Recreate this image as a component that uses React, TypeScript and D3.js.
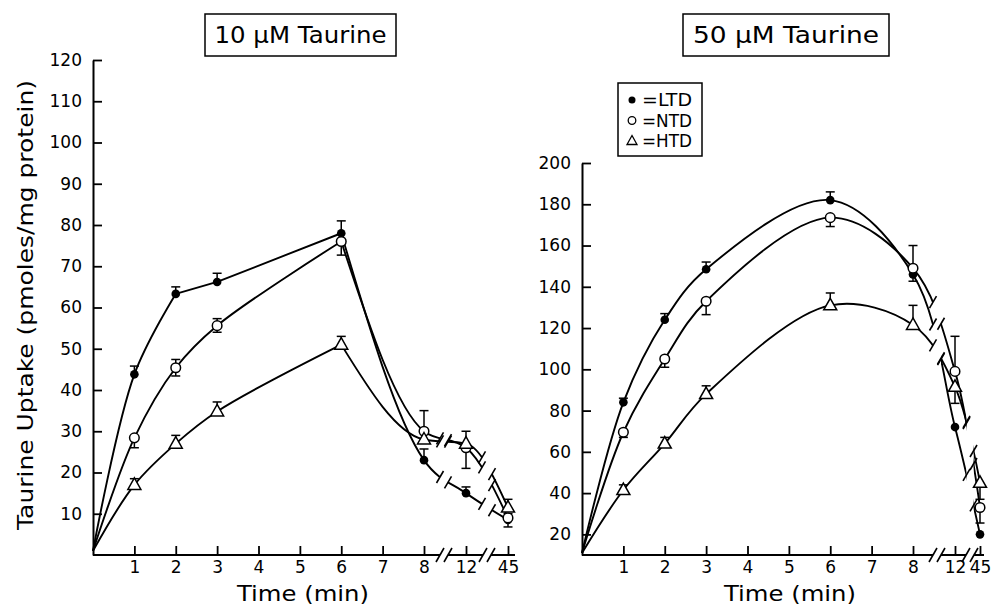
import React, { useEffect, useRef } from "react";
import * as d3 from "d3";

// ---------- data ----------
const sampleTimes = [0, 1, 2, 3, 6, 8, 12, 45];
const xTickValues = [1, 2, 3, 4, 5, 6, 7, 8, 12, 45];
const yTicks10 = [10, 20, 30, 40, 50, 60, 70, 80, 90, 100, 110, 120];
const yTicks50 = [20, 40, 60, 80, 100, 120, 140, 160, 180, 200];

// 10 uM taurine
const ltd10 = [1, 43.8, 63.3, 66.2, 78, 23, 15, 8.5];
const ltd10Up = [0, 2, 1.7, 2.1, 3, 2.7, 1.5, 1.5];
const ltd10Down = [0, 0, 0, 0, 0, 0, 0, 0];
const ntd10 = [1, 28.4, 45.4, 55.6, 76, 30, 26, 9];
const ntd10Up = [0, 0, 2, 1.7, 0, 5, 0, 0];
const ntd10Down = [0, 2.4, 2, 1.6, 3.3, 0, 5, 2.2];
const htd10 = [1, 17, 27, 34.8, 51, 28, 27, 11.5];
const htd10Up = [0, 1.5, 2, 2.3, 2, 0, 3, 2];
const htd10Down = [0, 0, 0, 0, 0, 0, 0, 0];

// 50 uM taurine
const ltd50 = [11, 84, 124, 148.5, 182, 146, 72, 20];
const ltd50Up = [0, 2, 3, 3.5, 4, 14, 0, 0];
const ltd50Down = [0, 0, 0, 0, 0, 0, 0, 0];
const ntd50 = [11, 69.5, 105, 133, 173.5, 149, 99, 33];
const ntd50Up = [0, 0, 0, 0, 0, 0, 17, 0];
const ntd50Down = [0, 2.5, 4, 6.5, 4.3, 6.3, 0, 7.5];
const htd50 = [11, 41.5, 64, 88, 131, 121.5, 91.5, 45];
const htd50Up = [0, 2.5, 3, 4, 6, 9.5, 0, 0];
const htd50Down = [0, 0, 0, 0, 0, 0, 8, 8];

const legendLabels = ["=LTD", "=NTD", "=HTD"];
const titles = ["10 \u03bcM Taurine", "50 \u03bcM Taurine"];

const FONT = "'DejaVu Sans', sans-serif";

type Series = { kind: string; v: number[]; up: number[]; down: number[]; smoothTo?: number };

function yAtX(node: SVGPathElement, x: number): number {
  const total = node.getTotalLength();
  let lo = 0,
    hi = total;
  for (let i = 0; i < 40; i++) {
    const mid = (lo + hi) / 2;
    const p = node.getPointAtLength(mid);
    if (p.x < x) lo = mid;
    else hi = mid;
  }
  return node.getPointAtLength((lo + hi) / 2).y;
}

function drawMarker(g: any, kind: string, x: number, y: number) {
  if (kind === "ltd") {
    g.append("circle").attr("cx", x).attr("cy", y).attr("r", 4.3).attr("fill", "#000");
  } else if (kind === "ntd") {
    g.append("circle").attr("cx", x).attr("cy", y).attr("r", 4.8)
      .attr("fill", "#fff").attr("stroke", "#000").attr("stroke-width", 1.5);
  } else {
    g.append("path")
      .attr("d", `M${x},${y - 7} L${x + 6.5},${y + 4.5} L${x - 6.5},${y + 4.5} Z`)
      .attr("fill", "#fff").attr("stroke", "#000").attr("stroke-width", 1.5);
  }
}

function drawPanel(svg: any, cfg: any) {
  const x = d3.scaleLinear().domain([0, 8, 12, 45]).range(cfg.xRange);
  const y = d3.scaleLinear().domain(cfg.yDomain).range(cfg.yRange);
  const g = svg.append("g");
  const y0 = cfg.yRange[0];

  // clip path excluding break gaps
  const clipId = "clip-" + cfg.id;
  const cp = svg.append("defs").append("clipPath").attr("id", clipId);
  const edges = [cfg.xRange[0] - 20];
  cfg.breaks.forEach((b: any) => {
    edges.push(b.c - b.h);
    edges.push(b.c + b.h);
  });
  edges.push(cfg.xRange[3] + 30);
  for (let i = 0; i < edges.length; i += 2) {
    cp.append("rect").attr("x", edges[i]).attr("y", 0)
      .attr("width", edges[i + 1] - edges[i]).attr("height", 605);
  }

  // y axis
  const yAxis = d3.axisLeft(y).tickValues(cfg.yTicks).tickSizeInner(-9).tickSizeOuter(0)
    .tickPadding(11).tickFormat(d3.format("d"));
  const ya = g.append("g").attr("transform", `translate(${cfg.xRange[0]},0)`).call(yAxis);
  ya.select(".domain").attr("stroke-width", 2);
  ya.selectAll(".tick line").attr("stroke-width", 1.8);
  ya.selectAll("text").attr("font-family", FONT).attr("font-size", 17).attr("fill", "#000");

  // x axis
  const xAxis = d3.axisBottom(x).tickValues(xTickValues).tickSizeInner(-9).tickSizeOuter(0)
    .tickPadding(6).tickFormat(d3.format("d"));
  const xa = g.append("g").attr("transform", `translate(0,${y0})`).call(xAxis);
  xa.select(".domain").remove();
  xa.selectAll(".tick line").attr("stroke-width", 1.8);
  xa.selectAll("text").attr("font-family", FONT).attr("font-size", 17).attr("fill", "#000");
  // x axis line with breaks
  const axSegs = [cfg.xRange[0]];
  cfg.breaks.forEach((b: any) => {
    axSegs.push(b.c - 4);
    axSegs.push(b.c + 4);
  });
  axSegs.push(cfg.axisEnd);
  for (let i = 0; i < axSegs.length; i += 2) {
    g.append("line").attr("x1", axSegs[i]).attr("x2", axSegs[i + 1])
      .attr("y1", y0).attr("y2", y0).attr("stroke", "#000").attr("stroke-width", 2);
  }
  cfg.breaks.forEach((b: any) => {
    [b.c - 4, b.c + 4].forEach((bx) => {
      g.append("line").attr("x1", bx - 4).attr("y1", y0 + 7).attr("x2", bx + 4).attr("y2", y0 - 7)
        .attr("stroke", "#000").attr("stroke-width", 1.6);
    });
  });

  // lines
  const pts = (s: Series) => sampleTimes.map((t, i) => [x(t), y(s.v[i])] as [number, number]);
  const lineG = g.append("g").attr("clip-path", `url(#${clipId})`);
  const markG = g.append("g");
  cfg.series.forEach((s: Series) => {
    const p = pts(s);
    let segs: { pts: [number, number][]; curve: any }[];
    if (cfg.split) {
      const k = s.smoothTo ?? 4;
      segs = [{ pts: p.slice(0, k + 1), curve: cfg.curveRise }];
      if (k < 4) segs.push({ pts: p.slice(k, 5), curve: d3.curveLinear });
      segs.push({ pts: p.slice(4), curve: cfg.curve });
    } else {
      segs = [{ pts: p, curve: cfg.curve }];
    }
    const nodes: SVGPathElement[] = [];
    segs.forEach((seg) => {
      const line = d3.line().curve(seg.curve);
      const path = lineG.append("path").attr("d", line(seg.pts)).attr("fill", "none")
        .attr("stroke", "#000").attr("stroke-width", 1.9).attr("stroke-linejoin", "round");
      nodes.push(path.node());
    });
    const last = nodes[nodes.length - 1];
    // break marks on line
    cfg.breaks.forEach((b: any) => {
      [b.c - b.h, b.c + b.h].forEach((bx) => {
        const by = yAtX(last, bx);
        g.append("line").attr("x1", bx - 3.5).attr("y1", by + 6).attr("x2", bx + 3.5).attr("y2", by - 6)
          .attr("stroke", "#000").attr("stroke-width", 1.6);
      });
    });
    // error bars
    sampleTimes.forEach((t, i) => {
      const px = x(t);
      const v = s.v[i];
      const bars: number[] = [];
      if (s.up[i] > 0) bars.push(v + s.up[i]);
      if (s.down[i] > 0) bars.push(v - s.down[i]);
      bars.forEach((e) => {
        markG.append("line").attr("x1", px).attr("x2", px).attr("y1", y(v)).attr("y2", y(e))
          .attr("stroke", "#000").attr("stroke-width", 1.5);
        markG.append("line").attr("x1", px - 4.5).attr("x2", px + 4.5).attr("y1", y(e)).attr("y2", y(e))
          .attr("stroke", "#000").attr("stroke-width", 1.5);
      });
    });
  });
  cfg.series.forEach((s: Series) => {
    sampleTimes.forEach((t, i) => {
      if (t === 0) return;
      drawMarker(markG, s.kind, x(t), y(s.v[i]));
    });
  });

  // x label
  g.append("text").attr("x", cfg.xLabelX).attr("y", 601).attr("text-anchor", "middle")
    .attr("font-family", FONT).attr("font-size", 22).attr("textLength", 132)
    .attr("lengthAdjust", "spacingAndGlyphs").text("Time (min)");

  // title box
  const tb = cfg.titleBox;
  g.append("rect").attr("x", tb[0]).attr("y", tb[1]).attr("width", tb[2] - tb[0])
    .attr("height", tb[3] - tb[1]).attr("fill", "none").attr("stroke", "#000").attr("stroke-width", 1.5);
  g.append("text").attr("x", (tb[0] + tb[2]) / 2).attr("y", 43).attr("text-anchor", "middle")
    .attr("font-family", FONT).attr("font-size", 23).attr("textLength", cfg.titleLen)
    .attr("lengthAdjust", "spacingAndGlyphs").text(cfg.title);
}

export default function App() {
  const ref = useRef<SVGSVGElement>(null);
  useEffect(() => {
    const svg = d3.select(ref.current);
    svg.selectAll("*").remove();
    svg.append("rect").attr("width", 993).attr("height", 605).attr("fill", "#fff");

    drawPanel(svg, {
      id: "p10",
      xRange: [93, 424, 466, 508],
      axisEnd: 515,
      yDomain: [0, 120],
      yRange: [555, 60],
      yTicks: yTicks10,
      breaks: [{ c: 444, h: 4 }, { c: 487, h: 5 }],
      split: true,
      curveRise: d3.curveCatmullRom.alpha(0.5),
      curve: d3.curveMonotoneX,
      series: [
        { kind: "ltd", v: ltd10, up: ltd10Up, down: ltd10Down, smoothTo: 2 },
        { kind: "ntd", v: ntd10, up: ntd10Up, down: ntd10Down },
        { kind: "htd", v: htd10, up: htd10Up, down: htd10Down },
      ],
      xLabelX: 303,
      titleBox: [205, 14, 396, 56],
      title: titles[0],
      titleLen: 172,
    });
    drawPanel(svg, {
      id: "p50",
      xRange: [582, 913, 955, 980],
      axisEnd: 984,
      yDomain: [10, 200],
      yRange: [555, 163],
      yTicks: yTicks50,
      breaks: [{ c: 937, h: 4 }, { c: 970, h: 3.5 }],
      split: false,
      curve: d3.curveCatmullRom.alpha(0.5),
      series: [
        { kind: "ltd", v: ltd50, up: ltd50Up, down: ltd50Down },
        { kind: "ntd", v: ntd50, up: ntd50Up, down: ntd50Down },
        { kind: "htd", v: htd50, up: htd50Up, down: htd50Down },
      ],
      xLabelX: 790,
      titleBox: [683, 14, 889, 56],
      title: titles[1],
      titleLen: 186,
    });

    // y label
    svg.append("text").attr("transform", "translate(33,305) rotate(-90)").attr("text-anchor", "middle")
      .attr("font-family", FONT).attr("font-size", 22).attr("textLength", 450)
      .attr("lengthAdjust", "spacingAndGlyphs").text("Taurine Uptake (pmoles/mg protein)");

    // legend
    const lg = svg.append("g");
    lg.append("rect").attr("x", 618).attr("y", 83).attr("width", 84).attr("height", 73)
      .attr("fill", "#fff").attr("stroke", "#000").attr("stroke-width", 1.5);
    const kinds = ["ltd", "ntd", "htd"];
    kinds.forEach((k, i) => {
      const cy = 100 + i * 20.5;
      if (k === "ltd") lg.append("circle").attr("cx", 632).attr("cy", cy).attr("r", 3.5).attr("fill", "#000");
      else if (k === "ntd")
        lg.append("circle").attr("cx", 632).attr("cy", cy).attr("r", 3.8).attr("fill", "#fff")
          .attr("stroke", "#000").attr("stroke-width", 1.3);
      else
        lg.append("path").attr("d", `M632,${cy - 5.5} L637,${cy + 3.5} L627,${cy + 3.5} Z`)
          .attr("fill", "#fff").attr("stroke", "#000").attr("stroke-width", 1.3);
      lg.append("text").attr("x", 642).attr("y", cy + 6).attr("font-family", FONT)
        .attr("font-size", 17).attr("textLength", 50).attr("lengthAdjust", "spacingAndGlyphs")
        .text(legendLabels[i]);
    });
  }, []);
  return (
    <svg ref={ref} width={993} height={605} style={{ position: "absolute", left: 0, top: 0 }} />
  );
}
